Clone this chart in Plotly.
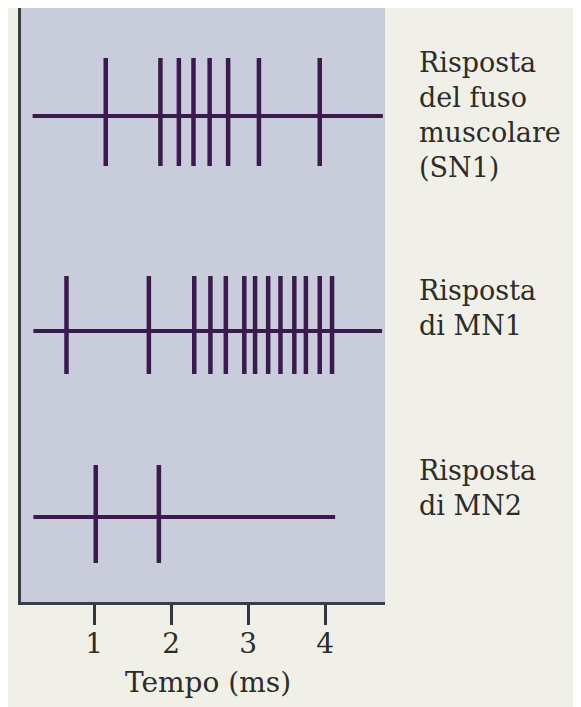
import plotly.graph_objects as go

# ---- data (times in ms) ----
sn1_spikes = [1.15, 1.86, 2.10, 2.29, 2.50, 2.74, 3.14, 3.93]
mn1_spikes = [0.64, 1.71, 2.30, 2.51, 2.71, 2.95, 3.09, 3.26, 3.42, 3.60, 3.75, 3.93, 4.09]
mn2_spikes = [1.02, 1.84]
trace_start = [0.20, 0.21, 0.21]
trace_end = [4.75, 4.74, 4.13]
row_labels = ["Risposta<br>del fuso<br>muscolare<br>(SN1)", "Risposta<br>di MN1", "Risposta<br>di MN2"]
tick_vals = [1, 2, 3, 4]
tick_text = ["1", "2", "3", "4"]
x_title = "Tempo (ms)"

# ---- layout constants (pixel-like vertical units, 0 = bottom of panel) ----
row_base = [486, 271, 85]
row_top = [544, 326, 137]
row_bot = [436, 228, 39]
label_top_paper = [1.0 - (44 - 7) / 594, 1.0 - (272 - 7) / 594, 1.0 - (452 - 7) / 594]

INK = "#3b1b4d"
TXT = "#2c2c2a"
FONT = "DejaVu Serif"

fig = go.Figure()
for spikes, s, e, b, top, bot in zip([sn1_spikes, mn1_spikes, mn2_spikes],
                                     trace_start, trace_end, row_base, row_top, row_bot):
    fig.add_trace(go.Scatter(x=[s, e], y=[b, b], mode="lines",
                             line=dict(color=INK, width=4), hoverinfo="skip", showlegend=False))
    xs, ys = [], []
    for t in spikes:
        xs += [t, t, None]
        ys += [bot, top, None]
    fig.add_trace(go.Scatter(x=xs, y=ys, mode="lines",
                             line=dict(color=INK, width=4.5), hoverinfo="skip", showlegend=False))

for lab, yp in zip(row_labels, label_top_paper):
    fig.add_annotation(text=lab, xref="paper", yref="paper", x=(417 - 21) / 364, y=yp,
                       xanchor="left", yanchor="top", align="left", showarrow=False,
                       font=dict(family=FONT, size=27, color=TXT))

fig.add_annotation(text=x_title, xref="paper", yref="paper",
                   x=(208 - 21) / 364, y=-(681 - 601) / 594,
                   xanchor="center", yanchor="middle", showarrow=False,
                   font=dict(family=FONT, size=28, color=TXT))

fig.update_xaxes(range=[0.049, 4.778], tickvals=tick_vals, ticktext=tick_text,
                 ticks="outside", ticklen=20, tickwidth=2.5, tickcolor="#33363c",
                 ticklabelstandoff=-6,
                 showline=True, linecolor="#3a3d45", linewidth=3,
                 showgrid=False, zeroline=False,
                 tickfont=dict(family=FONT, size=28, color=TXT))
fig.update_yaxes(range=[0, 594], showticklabels=False, ticks="",
                 showline=True, linecolor="#3a3d45", linewidth=3,
                 showgrid=False, zeroline=False)

fig.update_layout(width=573, height=699,
                  margin=dict(l=13, r=196, t=0, b=105),
                  paper_bgcolor="#f1f0e8", plot_bgcolor="#c9ccdb")

fig.write_html("out.html")
